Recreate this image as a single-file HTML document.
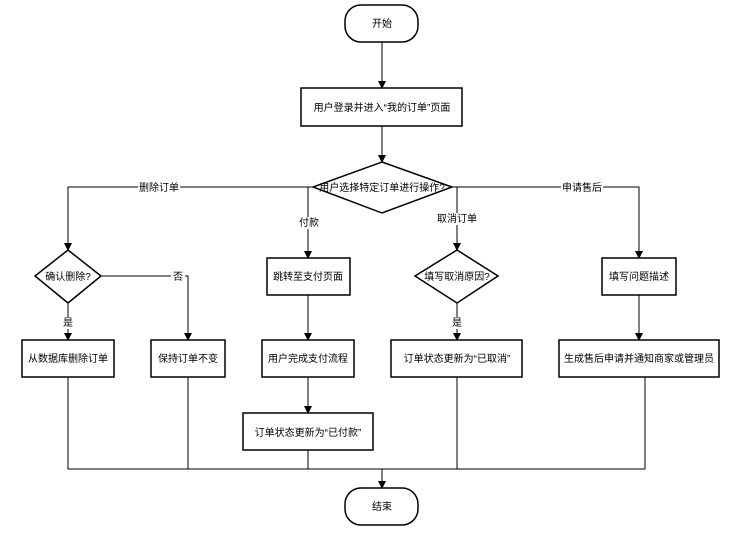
<!DOCTYPE html>
<html><head><meta charset="utf-8"><style>
body{margin:0;background:#fff}
svg text{font-family:"Liberation Sans","Noto Sans CJK SC",sans-serif;font-size:10px;fill:#000}
</style></head><body>
<svg width="740" height="537" viewBox="0 0 740 537" xmlns="http://www.w3.org/2000/svg">
<defs><marker id="a" markerWidth="8" markerHeight="8" refX="7" refY="4" orient="auto" markerUnits="userSpaceOnUse"><path d="M0,0 L8,4 L0,8 Z" fill="#000"/></marker></defs>
<g stroke="#000" stroke-width="1.5" fill="#fff">
<rect x="345" y="5" width="73" height="37" rx="16"/>
<rect x="301" y="88" width="161" height="38"/>
<polygon points="382,162 452,187 382,213 313,187"/>
<polygon points="68,250 101,276 68,303 35,276"/>
<rect x="22" y="340" width="92" height="37"/>
<rect x="151" y="340" width="74" height="37"/>
<rect x="267" y="258" width="83" height="37"/>
<rect x="262" y="340" width="92" height="37"/>
<rect x="243" y="413" width="130" height="37"/>
<polygon points="457,250 498,276 457,303 415,276"/>
<rect x="391" y="340" width="131" height="37"/>
<rect x="602" y="258" width="74" height="37"/>
<rect x="559" y="340" width="160" height="37"/>
<rect x="345" y="488" width="73" height="37" rx="16"/>
</g>
<g stroke="#000" stroke-width="1" fill="none" marker-end="url(#a)">
<path d="M382,42 V88"/>
<path d="M382,126 V162"/>
<path d="M313,187 H68 V250"/>
<path d="M68,303 V340"/>
<path d="M101,276 H188 V340"/>
<path d="M308,187 V258"/>
<path d="M308,295 V340"/>
<path d="M308,377 V413"/>
<path d="M457,187 V250"/>
<path d="M457,303 V340"/>
<path d="M452,187 H639 V258"/>
<path d="M639,295 V340"/>
<path d="M382,469 V488"/>
</g>
<g stroke="#000" stroke-width="1" fill="none">
<path d="M68,377 V469 H645 V377"/>
<path d="M188,377 V469"/>
<path d="M308,450 V469"/>
<path d="M457,377 V469"/>
</g>
<g fill="#fff">
<rect x="138" y="181" width="42" height="12"/>
<rect x="298" y="217" width="22" height="12"/>
<rect x="435" y="213" width="44" height="12"/>
<rect x="561" y="181" width="42" height="12"/>
<rect x="171" y="270" width="14" height="12"/>
<rect x="61" y="317" width="14" height="12"/>
<rect x="450" y="317" width="14" height="12"/>
</g>
<g text-anchor="middle">
<text x="382" y="27">开始</text>
<text x="382" y="111">用户登录并进入“我的订单”页面</text>
<text x="382" y="191">用户选择特定订单进行操作?</text>
<text x="68" y="280">确认删除?</text>
<text x="68" y="362">从数据库删除订单</text>
<text x="188" y="362">保持订单不变</text>
<text x="308" y="280">跳转至支付页面</text>
<text x="308" y="362">用户完成支付流程</text>
<text x="308" y="436">订单状态更新为“已付款”</text>
<text x="457" y="280">填写取消原因?</text>
<text x="457" y="362">订单状态更新为“已取消”</text>
<text x="639" y="280">填写问题描述</text>
<text x="639" y="362">生成售后申请并通知商家或管理员</text>
<text x="382" y="510">结束</text>
<text x="159" y="191">删除订单</text>
<text x="309" y="226">付款</text>
<text x="457" y="222">取消订单</text>
<text x="582" y="191">申请售后</text>
<text x="178" y="280">否</text>
<text x="68" y="326">是</text>
<text x="457" y="326">是</text>
</g>
</svg>
</body></html>
